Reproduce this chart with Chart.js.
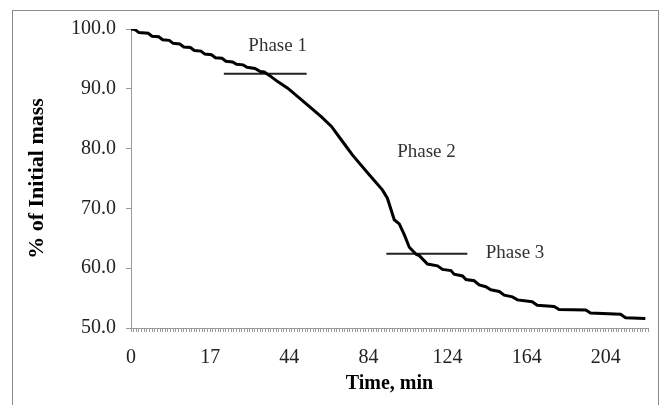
<!DOCTYPE html>
<html>
<head>
<meta charset="utf-8">
<script src="https://cdn.jsdelivr.net/npm/chart.js@4.4.0/dist/chart.umd.min.js"></script>
<style>
  body { margin: 0; background: #fff; }
  #wrap { position: relative; width: 662px; height: 405px; overflow: hidden; }
  #frame { position: absolute; left: 12px; top: 10px; width: 645px; height: 420px; border: 1px solid #8a8a8a; }
  canvas { position: absolute; left: 0; top: 0; }
</style>
</head>
<body>
<div id="wrap">
  <div id="frame"></div>
  <canvas id="massChart" width="662" height="405"></canvas>
</div>
<script>
// x positions are sample numbers along the category axis (one tick per sample)
const sampleIndex = [0, 1.5, 3, 6.5, 8, 10.5, 12, 14.5, 16, 18.5, 20, 22.5, 24, 26.5, 28, 30.5, 32, 34.5,
  36, 38.5, 40, 42.5, 44, 47, 49, 50.5, 52.6, 55.6, 59.4, 63.2, 66.9, 72.2, 76, 79, 82, 84, 90.4,
  95.3, 97.2, 99.8, 101.7, 103.6, 105.5, 108.2, 109.3, 112.4, 116.2, 118.1, 121.3, 122.5, 125.7,
  127, 130.1, 132, 134.5, 136.4, 139.6, 141.5, 144.6, 146.5, 152.1, 154, 160.4, 162.3, 172.4,
  174.2, 185.6, 187.5, 195];
const massPct = [100.0, 99.9, 99.4, 99.3, 98.8, 98.7, 98.2, 98.1, 97.6, 97.5, 97.0, 96.9, 96.4, 96.3, 95.8, 95.7, 95.2, 95.1,
  94.6, 94.5, 94.1, 94.0, 93.6, 93.4, 92.9, 92.8, 92.2, 91.2, 90.1, 88.7, 87.3, 85.3, 83.7, 81.9, 80.1, 78.9, 75.6,
  73.1, 71.7, 68.1, 67.4, 65.6, 63.5, 62.3, 62.1, 60.7, 60.4, 59.8, 59.6, 59.0, 58.7,
  58.1, 57.9, 57.2, 56.9, 56.4, 56.1, 55.5, 55.2, 54.7, 54.4, 53.8, 53.6, 53.1, 53.0,
  52.5, 52.3, 51.7, 51.6];

const sampleCount = 196;
const labelEvery = 30;
const xTickLabels = ['0', '17', '44', '84', '124', '164', '204'];

const phase1Line = {x: [35.2, 66.6], y: [92.5, 92.5]};
const phase3Line = {x: [96.8, 127.5], y: [62.4, 62.4]};
const phaseNotes = [
  {text: 'Phase 1', x: 55.6, y: 97.2},
  {text: 'Phase 2', x: 112, y: 79.4},
  {text: 'Phase 3', x: 145.6, y: 62.5}
];

const serif = '"Liberation Serif", "Times New Roman", serif';

function toPoints(xs, ys) {
  return xs.map((x, i) => ({x: x, y: ys[i]}));
}

const phaseLabels = {
  id: 'phaseLabels',
  afterDatasetsDraw(chart) {
    const ctx = chart.ctx;
    const sx = chart.scales.x, sy = chart.scales.y;
    ctx.save();
    ctx.font = '19px ' + serif;
    ctx.fillStyle = '#333';
    ctx.textAlign = 'center';
    ctx.textBaseline = 'middle';
    phaseNotes.forEach(n => {
      ctx.fillText(n.text, sx.getPixelForValue(n.x), sy.getPixelForValue(n.y));
    });
    ctx.restore();
  }
};

new Chart(document.getElementById('massChart'), {
  type: 'line',
  data: {
    datasets: [
      {
        data: toPoints(sampleIndex, massPct),
        borderColor: '#000',
        borderWidth: 3,
        pointRadius: 0,
        tension: 0,
        fill: false
      },
      {
        data: toPoints(phase1Line.x, phase1Line.y),
        borderColor: '#222',
        borderWidth: 2,
        pointRadius: 0
      },
      {
        data: toPoints(phase3Line.x, phase3Line.y),
        borderColor: '#222',
        borderWidth: 2,
        pointRadius: 0
      }
    ]
  },
  options: {
    responsive: false,
    animation: false,
    devicePixelRatio: 1,
    layout: {padding: {top: 29, right: 13, left: 0, bottom: 0}},
    plugins: {legend: {display: false}, tooltip: {enabled: false}},
    scales: {
      x: {
        type: 'linear',
        min: 0,
        max: sampleCount,
        border: {color: '#999', width: 1},
        grid: {drawOnChartArea: false, drawTicks: true, tickLength: 4, color: '#999'},
        ticks: {
          stepSize: 1,
          autoSkip: false,
          maxRotation: 0,
          minRotation: 0,
          padding: 14,
          color: '#222',
          font: {family: serif, size: 20},
          callback: (v) => {
            const i = Math.round(v);
            return i % labelEvery === 0 ? (xTickLabels[i / labelEvery] || '') : '';
          }
        },
        title: {
          display: true,
          text: 'Time, min',
          color: '#000',
          font: {family: serif, size: 20, weight: 'bold'},
          padding: {top: 0, bottom: 9}
        },
        afterFit: (s) => { s.height = 77; }
      },
      y: {
        min: 50,
        max: 100,
        border: {color: '#999', width: 1},
        grid: {drawOnChartArea: false, drawTicks: true, tickLength: 5, color: '#999'},
        ticks: {
          stepSize: 10,
          padding: 10,
          color: '#222',
          font: {family: serif, size: 20},
          callback: (v) => v.toFixed(1)
        },
        title: {
          display: true,
          text: '% of Initial mass',
          color: '#000',
          font: {family: serif, size: 22, weight: 'bold'},
          padding: {top: 24, bottom: 0}
        },
        afterFit: (s) => { s.width = 131; }
      }
    }
  },
  plugins: [phaseLabels]
});
</script>
</body>
</html>
